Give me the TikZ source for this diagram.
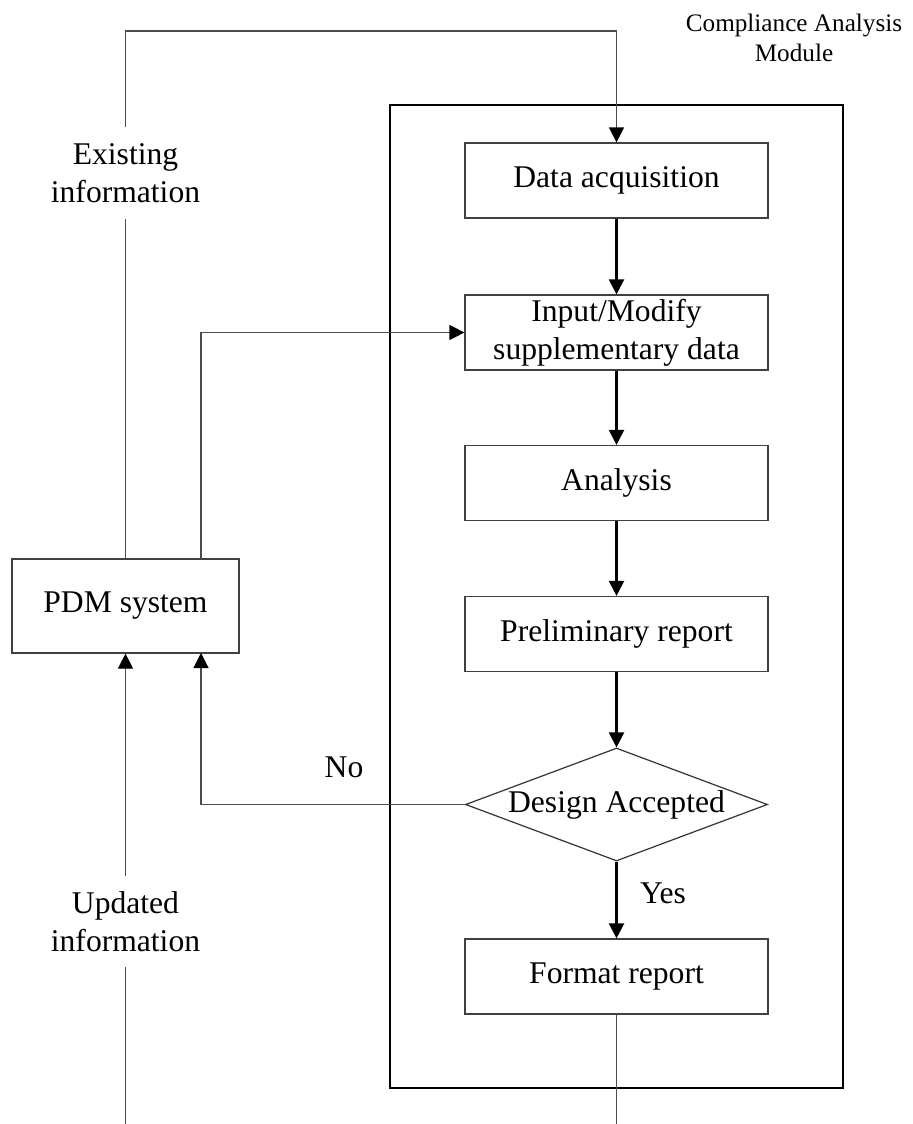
\documentclass[tikz,border=0pt]{standalone}
\usepackage{fontspec}
\setmainfont{Liberation Serif}
\usetikzlibrary{shapes.geometric,arrows.meta}
\begin{document}
\begin{tikzpicture}[x=0.5pt,y=-0.5pt,
  every node/.style={font=\fontsize{15.8}{19}\selectfont, align=center},
  procbox/.style={draw=black!75, line width=0.6pt, rectangle, minimum width=151.5pt, minimum height=37.5pt, inner sep=0pt},
  decbox/.style={draw=black!80, line width=0.6pt, diamond, aspect=2.67, minimum width=151pt, minimum height=56.5pt, inner sep=0pt},
  lbl/.style={inner sep=0pt},
  thin link/.style={draw=black!70, line width=0.6pt},
  flow/.style={draw=black, line width=1.1pt, -{Triangle[length=7.5pt,width=7.5pt]}},
  feed/.style={thin link, -{Triangle[length=7.5pt,width=7.5pt,color=black,fill=black]}},
]
\useasboundingbox (0,0) rectangle (912,1124);

% module frame and its title
\draw[line width=1.1pt] (390,105) rectangle (843,1088);
\node[font=\fontsize{12.6}{15}\selectfont, lbl] (title) at (794,38) {Compliance Analysis\\Module};

% process steps
\node[procbox] (da)  at (616.5,180.5) {Data acquisition};
\node[procbox] (im)  at (616.5,332.5) {Input/Modify\\supplementary data};
\node[procbox] (an)  at (616.5,483)   {Analysis};
\node[procbox] (pr)  at (616.5,634)   {Preliminary report};
\node[decbox]  (dec) at (616.5,804.5) {Design Accepted};
\node[procbox] (fr)  at (616.5,976.5) {Format report};

% external system
\node[procbox, minimum width=113.5pt, minimum height=47pt] (pdm) at (125.5,606) {PDM system};

% flow labels
\node[lbl, minimum height=46pt] (exist) at (125.5,173) {Existing\\information};
\node[lbl, minimum height=45.5pt] (upd) at (125.5,921.5) {Updated\\information};
\node[lbl] (no)  at (344,767) {No};
\node[lbl] (yes) at (663,893) {Yes};

% free ends and corners
\coordinate (tl) at (125.5,31);
\coordinate (ub) at (125.5,1124);
\coordinate (fb) at (616.5,1124);
\coordinate (pdmr) at (201,559);
\coordinate (pdmrb) at (201,653);

% main flow
\draw[flow] (da) -- (im);
\draw[flow] (im) -- (an);
\draw[flow] (an) -- (pr);
\draw[flow] (pr) -- (dec);
\draw[flow] (dec) -- (fr);
\draw[thin link] (fr.south) -- (fb);

% links with the PDM system
\draw[thin link] (pdm.north) -- (exist.south);
\draw[feed] (exist.north) -- (tl) -| (da.north);
\draw[feed] (pdmr) |- (im.west);
\draw[feed] (dec.west) -| (pdmrb);
\draw[thin link] (ub) -- (upd.south);
\draw[feed] (upd.north) -- (pdm.south);
\end{tikzpicture}
\end{document}
